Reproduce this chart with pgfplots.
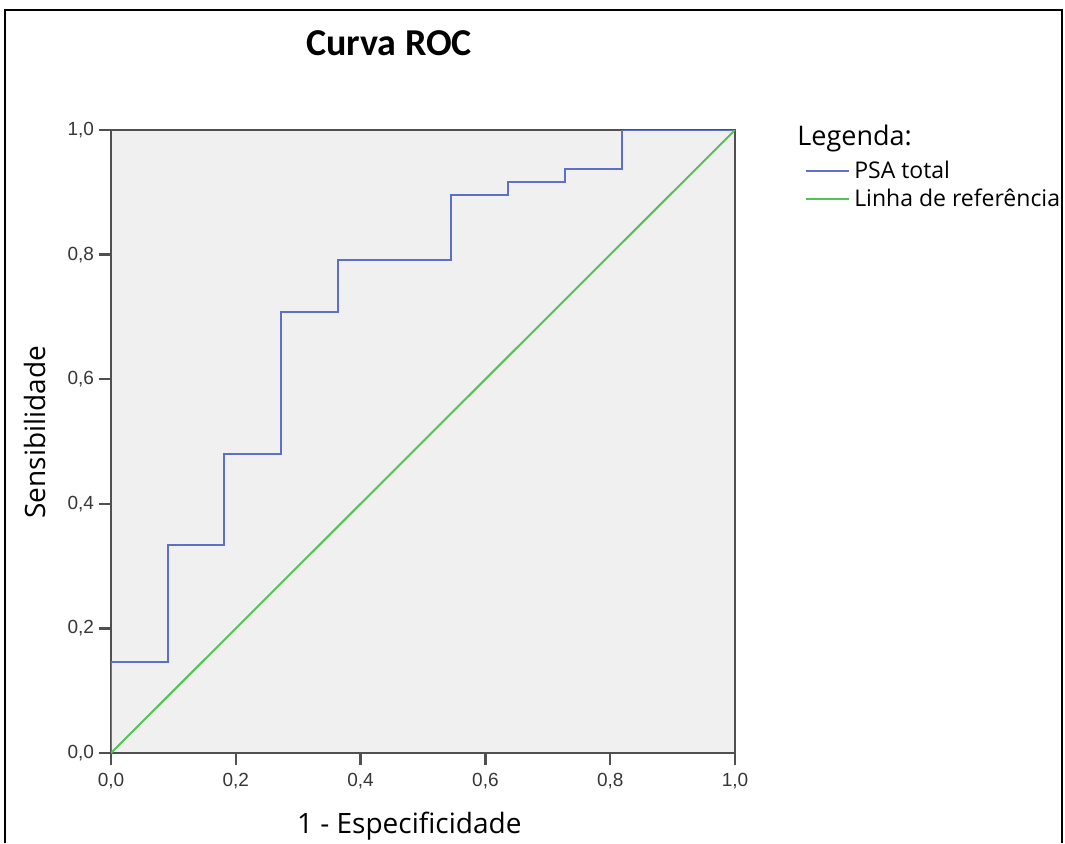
\documentclass[border=0pt]{standalone}
\usepackage{fontspec}
\setmainfont{Open Sans}
\newfontfamily\titlefont{Carlito}
\newfontfamily\tickfont{Liberation Sans}
\usepackage{pgfplots}
\pgfplotsset{compat=1.18}

\definecolor{rocblue}{RGB}{92,112,200}
\definecolor{refgreen}{RGB}{82,196,82}
\definecolor{plotbg}{RGB}{240,240,240}
\definecolor{axisgray}{RGB}{80,80,80}
\definecolor{ticktext}{RGB}{55,55,55}

\begin{document}
\begin{tikzpicture}
    % page = 1065 x 843 px at 0.5pt per px
    \useasboundingbox (0pt,0pt) rectangle (532.5pt,421.5pt);
    \fill[white] (0pt,0pt) rectangle (532.5pt,421.5pt);
    % outer frame (open at the bottom)
    \draw[black, line width=1.2pt] (2.5pt,0pt) -- (2.5pt,416.5pt) -- (531pt,416.5pt) -- (531pt,0pt);

    \begin{axis}[
            at={(55.5pt,45pt)}, anchor=south west,
            scale only axis,
            width=312pt, height=311.5pt,
            xmin=0, xmax=1, ymin=0, ymax=1,
            axis background/.style={fill=plotbg},
            axis line style={axisgray, line width=1.1pt},
            every tick/.style={axisgray, line width=1.2pt},
            tick align=outside,
            major tick length=6pt,
            xtick pos=bottom, ytick pos=left,
            xtick={0,0.2,0.4,0.6,0.8,1},
            ytick={0,0.2,0.4,0.6,0.8,1},
            xticklabels={{0,0},{0,2},{0,4},{0,6},{0,8},{1,0}},
            yticklabels={{0,0},{0,2},{0,4},{0,6},{0,8},{1,0}},
            ticklabel style={font=\tickfont\fontsize{9.5}{11}\selectfont, text=ticktext},
            xticklabel style={yshift=-0.5pt},
            yticklabel style={xshift=1pt},
            xlabel={1 - Especificidade},
            ylabel={Sensibilidade},
            label style={font=\fontsize{14}{17}\selectfont},
            xlabel style={at={(axis description cs:0.478,-0.117)}, anchor=center},
            ylabel style={at={(axis description cs:-0.122,0.515)}, anchor=center, rotate=0},
            legend style={at={(axis description cs:1.112,0.958)}, anchor=north west,
                draw=none, fill=none, inner sep=0pt, row sep=0pt,
                font=\fontsize{11.5}{13.5}\selectfont},
            legend cell align=left,
            legend image code/.code={\draw[#1] (0pt,0pt) -- (21.5pt,0pt);},
        ]
        % PSA total (empirical ROC steps)
        \addplot[rocblue, line width=1pt, const plot] coordinates {
                (0,0) (0,0.1458) (0.0909,0.1458) (0.0909,0.3333) (0.1818,0.3333)
                (0.1818,0.4792) (0.2727,0.4792) (0.2727,0.7083) (0.3636,0.7083)
                (0.3636,0.7917) (0.5455,0.7917) (0.5455,0.8958) (0.6364,0.8958)
                (0.6364,0.9167) (0.7273,0.9167) (0.7273,0.9375) (0.8182,0.9375)
                (0.8182,1) (1,1)};
        \addlegendentry{PSA total}
        % reference line
        \addplot[refgreen, line width=1pt] coordinates {(0,0) (1,1)};
        \addlegendentry{Linha de referência}
    \end{axis}

    \node[font=\titlefont\bfseries\fontsize{19}{22}\selectfont] at (194.5pt,400pt) {Curva ROC};
    \node[anchor=west, font=\fontsize{13.5}{16}\selectfont, inner sep=0pt] at (398.5pt,352.5pt) {Legenda:};
\end{tikzpicture}
\end{document}
